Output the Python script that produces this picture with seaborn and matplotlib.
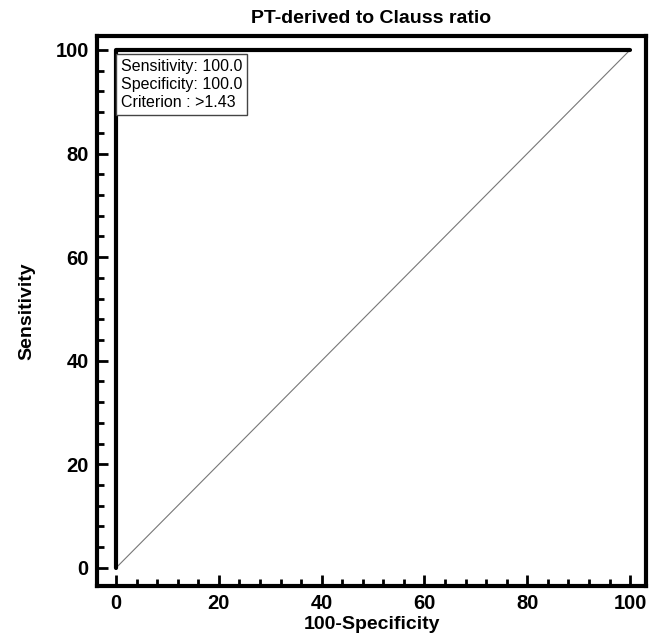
import matplotlib
matplotlib.use("Agg")
import matplotlib.pyplot as plt
import seaborn as sns
import pandas as pd
from matplotlib.ticker import MultipleLocator

sns.set_theme(style="white")
plt.rcParams['font.family'] = ['Liberation Sans', 'DejaVu Sans']
plt.rcParams['text.color'] = 'black'
plt.rcParams['axes.labelcolor'] = 'black'
plt.rcParams['xtick.color'] = 'black'
plt.rcParams['ytick.color'] = 'black'

# ROC data
fpr = [0, 0, 100]          # 100-Specificity
tpr = [0, 100, 100]        # Sensitivity
diag_x = [0, 100]
diag_y = [0, 100]
box_lines = ["Sensitivity: 100.0", "Specificity: 100.0", "Criterion : >1.43"]

df = pd.DataFrame({"x": fpr, "y": tpr})
dfd = pd.DataFrame({"x": diag_x, "y": diag_y})

fig = plt.figure(figsize=(6.58, 6.42), dpi=100)
ax = fig.add_axes([0.1474, 0.0872, 0.8344, 0.8568])

sns.lineplot(data=dfd, x="x", y="y", ax=ax, color="#777777", linewidth=0.8,
             sort=False, estimator=None)
sns.lineplot(data=df, x="x", y="y", ax=ax, color="black", linewidth=3,
             sort=False, estimator=None)

ax.set_xlim(-3.7, 103.1)
ax.set_ylim(-3.5, 102.7)
ax.xaxis.set_major_locator(MultipleLocator(20))
ax.xaxis.set_minor_locator(MultipleLocator(4))
ax.yaxis.set_major_locator(MultipleLocator(20))
ax.yaxis.set_minor_locator(MultipleLocator(4))
ax.tick_params(which="major", direction="in", length=8, width=2, color="black",
               bottom=True, left=True, labelsize=14.5, pad=6)
ax.tick_params(which="minor", direction="in", length=5, width=2, color="black",
               bottom=True, left=True)
for lab in ax.get_xticklabels() + ax.get_yticklabels():
    lab.set_fontweight("bold")

for s in ax.spines.values():
    s.set_linewidth(3)
    s.set_color("black")

ax.set_xlabel("100-Specificity", fontsize=14, fontweight="bold", labelpad=2)
ax.set_ylabel("Sensitivity", fontsize=14, fontweight="bold", labelpad=14)
ax.set_title("PT-derived to Clauss ratio", fontsize=14, fontweight="bold", pad=9)

ax.text(1.0, 98.3, "\n".join(box_lines), fontsize=11.5, va="top", ha="left",
        linespacing=1.25,
        bbox=dict(boxstyle="square,pad=0.3", facecolor="white", edgecolor="#444444", linewidth=1))

fig.savefig("out.png", dpi=100)
